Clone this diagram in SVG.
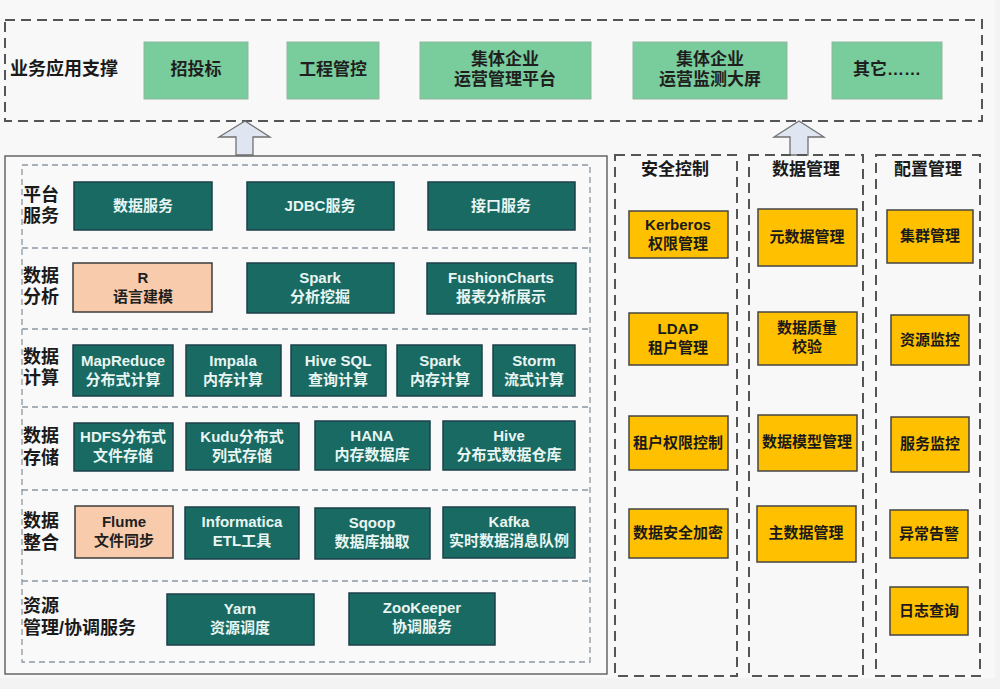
<svg xmlns="http://www.w3.org/2000/svg" width="1000" height="689" viewBox="0 0 1000 689">
<style>
text{font-family:"Liberation Sans","Noto Sans CJK SC",sans-serif;font-weight:bold;text-anchor:middle;dominant-baseline:central}
.lbl{text-anchor:start;font-size:18px;fill:#1a1a1a}
.ttl{font-size:17px;fill:#1a1a1a}
.g rect{fill:#79cc9c;stroke:#8fb79d;stroke-width:1}
.g text{font-size:17px;fill:#1f1f1f}
.t rect{fill:#186a62;stroke:#1d3f4a;stroke-width:1.5}
.t text{font-size:15px;fill:#e9f5f2}
.p rect{fill:#f8cbad;stroke:#3c3c3c;stroke-width:1.5}
.p text{font-size:15px;fill:#1f1f1f}
.y rect{fill:#ffc000;stroke:#444;stroke-width:1.5}
.y text{font-size:15px;fill:#1a1a1a}
.dash{fill:none;stroke:#555;stroke-width:2;stroke-dasharray:10 6}
.idash{fill:none;stroke:#8c98a4;stroke-width:1.3;stroke-dasharray:6 4}
.arrow{fill:#dfe6f2;stroke:#707070;stroke-width:1.3}
</style>
<rect x="0" y="0" width="1000" height="689" fill="#f3f3f3"/>
<rect x="0" y="0" width="995" height="678" fill="#f8f8f8"/>

<!-- top band -->
<g id="app-layer">
<rect class="dash" x="5" y="20" width="977" height="101" fill="#f7f7f7"/>
<text class="lbl" x="10" y="69">业务应用支撑</text>
</g>
<g id="n-bid" class="g"><rect x="144" y="42" width="104" height="57"/><text x="196" y="69">招投标</text></g>
<g id="n-proj" class="g"><rect x="287" y="42" width="92" height="57"/><text x="333" y="69">工程管控</text></g>
<g id="n-ops" class="g"><rect x="420" y="42" width="171" height="57"/><text x="505" y="59">集体企业<tspan x="505" dy="20">运营管理平台</tspan></text></g>
<g id="n-mon" class="g"><rect x="633" y="42" width="154" height="57"/><text x="710" y="59">集体企业<tspan x="710" dy="20">运营监测大屏</tspan></text></g>
<g id="n-other" class="g"><rect x="832" y="42" width="110" height="57"/><text x="887" y="69">其它……</text></g>

<!-- connectors (up arrows) -->
<g id="connectors">
<polygon class="arrow" points="245,121 219,137 236,137 236,155 253,155 253,137 270,137"/>
<polygon class="arrow" points="799,121 774,137 790,137 790,155 808,155 808,137 824,137"/>
</g>

<!-- left platform panel -->
<g id="platform">
<rect x="5" y="156" width="602" height="518" fill="#f9f9f9" stroke="#666" stroke-width="1.5"/>
<rect class="idash" x="22" y="165" width="568" height="497"/>
<line class="idash" x1="22" y1="248" x2="590" y2="248"/>
<line class="idash" x1="22" y1="329" x2="590" y2="329"/>
<line class="idash" x1="22" y1="407" x2="590" y2="407"/>
<line class="idash" x1="22" y1="490" x2="590" y2="490"/>
<line class="idash" x1="22" y1="581" x2="590" y2="581"/>
<text class="lbl" x="23" y="195">平台<tspan x="23" dy="21">服务</tspan></text>
<text class="lbl" x="23" y="276">数据<tspan x="23" dy="21">分析</tspan></text>
<text class="lbl" x="23" y="357">数据<tspan x="23" dy="21">计算</tspan></text>
<text class="lbl" x="23" y="436">数据<tspan x="23" dy="22">存储</tspan></text>
<text class="lbl" x="23" y="521">数据<tspan x="23" dy="22">整合</tspan></text>
<text class="lbl" x="23" y="606">资源<tspan x="23" dy="22">管理/协调服务</tspan></text>
</g>

<g id="n-datasvc" class="t"><rect x="74" y="182" width="138" height="48"/><text x="143" y="205">数据服务</text></g>
<g id="n-jdbc" class="t"><rect x="247" y="182" width="147" height="48"/><text x="320" y="205">JDBC服务</text></g>
<g id="n-api" class="t"><rect x="428" y="182" width="147" height="48"/><text x="501" y="205">接口服务</text></g>

<g id="n-r" class="p"><rect x="73" y="263" width="139" height="49"/><text x="143" y="277">R<tspan x="143" dy="19">语言建模</tspan></text></g>
<g id="n-sparkml" class="t"><rect x="247" y="263" width="147" height="50"/><text x="320" y="277">Spark<tspan x="320" dy="19">分析挖掘</tspan></text></g>
<g id="n-fusion" class="t"><rect x="427" y="263" width="149" height="51"/><text x="501" y="277">FushionCharts<tspan x="501" dy="19">报表分析展示</tspan></text></g>

<g id="n-mr" class="t"><rect x="73" y="345" width="100" height="51"/><text x="123" y="360">MapReduce<tspan x="123" dy="19">分布式计算</tspan></text></g>
<g id="n-impala" class="t"><rect x="186" y="345" width="95" height="51"/><text x="233" y="360">Impala<tspan x="233" dy="19">内存计算</tspan></text></g>
<g id="n-hivesql" class="t"><rect x="291" y="345" width="95" height="51"/><text x="338" y="360">Hive SQL<tspan x="338" dy="19">查询计算</tspan></text></g>
<g id="n-spark" class="t"><rect x="397" y="345" width="85" height="51"/><text x="440" y="360">Spark<tspan x="440" dy="19">内存计算</tspan></text></g>
<g id="n-storm" class="t"><rect x="493" y="345" width="82" height="51"/><text x="534" y="360">Storm<tspan x="534" dy="19">流式计算</tspan></text></g>

<g id="n-hdfs" class="t"><rect x="74" y="423" width="99" height="48"/><text x="123" y="436">HDFS分布式<tspan x="123" dy="19">文件存储</tspan></text></g>
<g id="n-kudu" class="t"><rect x="186" y="423" width="113" height="47"/><text x="242" y="436">Kudu分布式<tspan x="242" dy="19">列式存储</tspan></text></g>
<g id="n-hana" class="t"><rect x="315" y="421" width="115" height="49"/><text x="372" y="435">HANA<tspan x="372" dy="19">内存数据库</tspan></text></g>
<g id="n-hive" class="t"><rect x="443" y="421" width="132" height="49"/><text x="509" y="435">Hive<tspan x="509" dy="19">分布式数据仓库</tspan></text></g>

<g id="n-flume" class="p"><rect x="75" y="506" width="98" height="52"/><text x="124" y="521">Flume<tspan x="124" dy="19">文件同步</tspan></text></g>
<g id="n-informatica" class="t"><rect x="185" y="507" width="114" height="52"/><text x="242" y="521">Informatica<tspan x="242" dy="19">ETL工具</tspan></text></g>
<g id="n-sqoop" class="t"><rect x="315" y="508" width="115" height="51"/><text x="372" y="522">Sqoop<tspan x="372" dy="19">数据库抽取</tspan></text></g>
<g id="n-kafka" class="t"><rect x="443" y="507" width="132" height="51"/><text x="509" y="521">Kafka<tspan x="509" dy="19">实时数据消息队例</tspan></text></g>

<g id="n-yarn" class="t"><rect x="167" y="594" width="147" height="51"/><text x="240" y="608">Yarn<tspan x="240" dy="19">资源调度</tspan></text></g>
<g id="n-zk" class="t"><rect x="349" y="593" width="146" height="52"/><text x="422" y="607">ZooKeeper<tspan x="422" dy="19">协调服务</tspan></text></g>

<!-- right columns -->
<g id="security">
<rect class="dash" x="615" y="155" width="122" height="521" fill="#f7f7f7"/>
<text class="ttl" x="675" y="169">安全控制</text>
</g>
<g id="n-kerberos" class="y"><rect x="629" y="211" width="99" height="47"/><text x="678" y="224">Kerberos<tspan x="678" dy="19">权限管理</tspan></text></g>
<g id="n-ldap" class="y"><rect x="629" y="313" width="99" height="52"/><text x="678" y="328">LDAP<tspan x="678" dy="19">租户管理</tspan></text></g>
<g id="n-tenant" class="y"><rect x="629" y="416" width="99" height="54"/><text x="678" y="442">租户权限控制</text></g>
<g id="n-encrypt" class="y"><rect x="629" y="509" width="99" height="49"/><text x="678" y="532">数据安全加密</text></g>

<g id="datamgmt">
<rect class="dash" x="749" y="155" width="114" height="521" fill="#f7f7f7"/>
<text class="ttl" x="806" y="169">数据管理</text>
</g>
<g id="n-meta" class="y"><rect x="758" y="209" width="99" height="57"/><text x="807" y="236">元数据管理</text></g>
<g id="n-quality" class="y"><rect x="758" y="312" width="99" height="53"/><text x="807" y="327">数据质量<tspan x="807" dy="19">校验</tspan></text></g>
<g id="n-model" class="y"><rect x="758" y="415" width="99" height="56"/><text x="807" y="441">数据模型管理</text></g>
<g id="n-master" class="y"><rect x="757" y="506" width="99" height="56"/><text x="806" y="532">主数据管理</text></g>

<g id="config">
<rect class="dash" x="876" y="155" width="104" height="521" fill="#f7f7f7"/>
<text class="ttl" x="928" y="169">配置管理</text>
</g>
<g id="n-cluster" class="y"><rect x="887" y="210" width="86" height="53"/><text x="930" y="235">集群管理</text></g>
<g id="n-resmon" class="y"><rect x="891" y="315" width="78" height="50"/><text x="930" y="339">资源监控</text></g>
<g id="n-svcmon" class="y"><rect x="891" y="417" width="78" height="55"/><text x="930" y="443">服务监控</text></g>
<g id="n-alarm" class="y"><rect x="890" y="510" width="78" height="48"/><text x="929" y="533">异常告警</text></g>
<g id="n-log" class="y"><rect x="890" y="587" width="78" height="48"/><text x="929" y="610">日志查询</text></g>
</svg>
